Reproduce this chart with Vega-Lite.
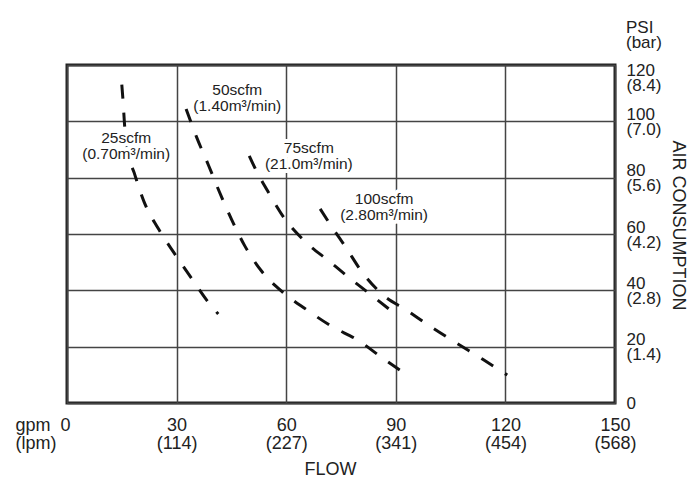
{
  "$schema": "https://vega.github.io/schema/vega-lite/v6.json",
  "width": 548,
  "height": 338,
  "autosize": {"type": "none"},
  "padding": {"left": 67, "top": 65, "right": 85, "bottom": 85},
  "background": "white",
  "config": {
    "font": "Liberation Sans",
    "view": {"stroke": "#222", "strokeWidth": 3},
    "axis": {"labelFont": "Liberation Sans", "titleFont": "Liberation Sans"}
  },
  "title": {
    "text": ["PSI", "(bar)"],
    "anchor": "end",
    "frame": "group",
    "align": "left",
    "dx": 11,
    "offset": 9,
    "fontSize": 17,
    "fontWeight": "normal",
    "lineHeight": 15,
    "color": "#222",
    "font": "Liberation Sans"
  },
  "datasets": {
    "curves": [
      {"curve": "25", "flow": 15.0, "psi": 113},
      {"curve": "25", "flow": 15.3, "psi": 108},
      {"curve": "25", "flow": 15.8, "psi": 98},
      {"curve": "25", "flow": 16.6, "psi": 89.5},
      {"curve": "25", "flow": 18.4, "psi": 81.7},
      {"curve": "25", "flow": 21.1, "psi": 71.4},
      {"curve": "25", "flow": 24.9, "psi": 62.1},
      {"curve": "25", "flow": 29.4, "psi": 53.1},
      {"curve": "25", "flow": 34.0, "psi": 44.4},
      {"curve": "25", "flow": 38.6, "psi": 35.9},
      {"curve": "25", "flow": 41.4, "psi": 31.6},
      {"curve": "50", "flow": 32.6, "psi": 104.4},
      {"curve": "50", "flow": 35.5, "psi": 94.3},
      {"curve": "50", "flow": 38.7, "psi": 84.5},
      {"curve": "50", "flow": 41.7, "psi": 75.0},
      {"curve": "50", "flow": 45.1, "psi": 65.0},
      {"curve": "50", "flow": 48.7, "psi": 55.7},
      {"curve": "50", "flow": 53.4, "psi": 46.6},
      {"curve": "50", "flow": 59.2, "psi": 39.2},
      {"curve": "50", "flow": 65.4, "psi": 33.3},
      {"curve": "50", "flow": 72.6, "psi": 27.1},
      {"curve": "50", "flow": 79.5, "psi": 22.4},
      {"curve": "50", "flow": 86.4, "psi": 15.9},
      {"curve": "50", "flow": 93.5, "psi": 9.6},
      {"curve": "75", "flow": 49.9, "psi": 87.7},
      {"curve": "75", "flow": 51.5, "psi": 83.3},
      {"curve": "75", "flow": 55.4, "psi": 74.2},
      {"curve": "75", "flow": 59.5, "psi": 65.6},
      {"curve": "75", "flow": 65.2, "psi": 57.3},
      {"curve": "75", "flow": 71.6, "psi": 50.5},
      {"curve": "75", "flow": 78.0, "psi": 43.7},
      {"curve": "75", "flow": 84.4, "psi": 37.2},
      {"curve": "75", "flow": 90.8, "psi": 30.6},
      {"curve": "100", "flow": 69.3, "psi": 68.9},
      {"curve": "100", "flow": 72.6, "psi": 62.3},
      {"curve": "100", "flow": 76.2, "psi": 55.5},
      {"curve": "100", "flow": 80.7, "psi": 46.6},
      {"curve": "100", "flow": 86.2, "psi": 38.7},
      {"curve": "100", "flow": 93.1, "psi": 32.8},
      {"curve": "100", "flow": 99.8, "psi": 26.9},
      {"curve": "100", "flow": 106.7, "psi": 21.2},
      {"curve": "100", "flow": 113.8, "psi": 15.5},
      {"curve": "100", "flow": 120.5, "psi": 9.9}
    ],
    "labels": [
      {"label": "25scfm\n(0.70m³/min)", "flow": 16.2, "psi": 91.5},
      {"label": "50scfm\n(1.40m³/min)", "flow": 46.6, "psi": 108.6},
      {"label": "75scfm\n(21.0m³/min)", "flow": 66.2, "psi": 88.0},
      {"label": "100scfm\n(2.80m³/min)", "flow": 86.8, "psi": 69.8}
    ]
  },
  "encoding": {
    "x": {
      "field": "flow",
      "type": "quantitative",
      "scale": {"domain": [0, 150], "nice": false, "zero": false},
      "axis": {
        "orient": "bottom",
        "values": [0, 30, 60, 90, 120, 150],
        "domain": false,
        "ticks": false,
        "grid": true,
        "gridColor": "#444",
        "gridWidth": 1.5,
        "gridOpacity": 1,
        "labelFlush": false,
        "labelOverlap": false,
        "labelBound": false,
        "labelFontSize": 18,
        "labelColor": "#222",
        "labelPadding": 13,
        "labelLineHeight": 18,
        "labelBaseline": "top",
        "labelAlign": {"condition": {"test": "datum.value == 0", "value": "left"}, "value": "center"},
        "labelOffset": {"condition": {"test": "datum.value == 0", "value": -52}, "value": 0},
        "labelExpr": "datum.value == 0 ? ['gpm\u00a0\u00a00', '(lpm)'] : [datum.label, '(' + format(datum.value * 3.785, '.0f') + ')']",
        "title": "FLOW",
        "titleFontSize": 18,
        "titleFontWeight": "normal",
        "titleColor": "#222",
        "titleX": 263,
        "titleY": 66,
        "titleBaseline": "middle",
        "titleAlign": "center"
      }
    },
    "y": {
      "field": "psi",
      "type": "quantitative",
      "scale": {"domain": [0, 120], "nice": false, "zero": false},
      "axis": {
        "orient": "right",
        "values": [0, 20, 40, 60, 80, 100, 120],
        "domain": false,
        "ticks": false,
        "grid": true,
        "gridColor": "#444",
        "gridWidth": 1.5,
        "gridOpacity": 1,
        "labelFlush": false,
        "labelOverlap": false,
        "labelBound": false,
        "labelFontSize": 17,
        "labelColor": "#222",
        "labelPadding": 11,
        "labelAlign": "left",
        "labelBaseline": "middle",
        "labelLineHeight": 15,
        "labelOffset": {"condition": [{"test": "datum.value == 120", "value": 5}, {"test": "datum.value == 0", "value": 0}], "value": -7},
        "labelExpr": "datum.value == 0 ? '0' : [datum.label, '(' + format(datum.value * 0.07, '.1f') + ')']",
        "title": "AIR CONSUMPTION",
        "titleAngle": 90,
        "titleFontSize": 18,
        "titleFontWeight": "normal",
        "titleColor": "#222",
        "titleX": 62,
        "titleY": 160,
        "titleBaseline": "middle",
        "titleAlign": "center"
      }
    }
  },
  "layer": [
    {
      "data": {"name": "curves"},
      "mark": {
        "type": "line",
        "interpolate": "monotone",
        "color": "#111",
        "strokeWidth": 3,
        "strokeDash": [14, 14],
        "strokeCap": "butt"
      },
      "encoding": {"detail": {"field": "curve", "type": "nominal"}}
    },
    {
      "data": {"name": "labels"},
      "mark": {
        "type": "text",
        "lineBreak": "\n",
        "fontSize": 15.5,
        "lineHeight": 16,
        "baseline": "middle",
        "align": "center",
        "dy": -7.5,
        "stroke": "white",
        "strokeWidth": 8,
        "strokeJoin": "round",
        "fill": "white"
      },
      "encoding": {"text": {"field": "label", "type": "nominal"}}
    },
    {
      "data": {"name": "labels"},
      "mark": {
        "type": "text",
        "lineBreak": "\n",
        "fontSize": 15.5,
        "lineHeight": 16,
        "baseline": "middle",
        "align": "center",
        "dy": -7.5,
        "fill": "#222"
      },
      "encoding": {"text": {"field": "label", "type": "nominal"}}
    }
  ]
}
